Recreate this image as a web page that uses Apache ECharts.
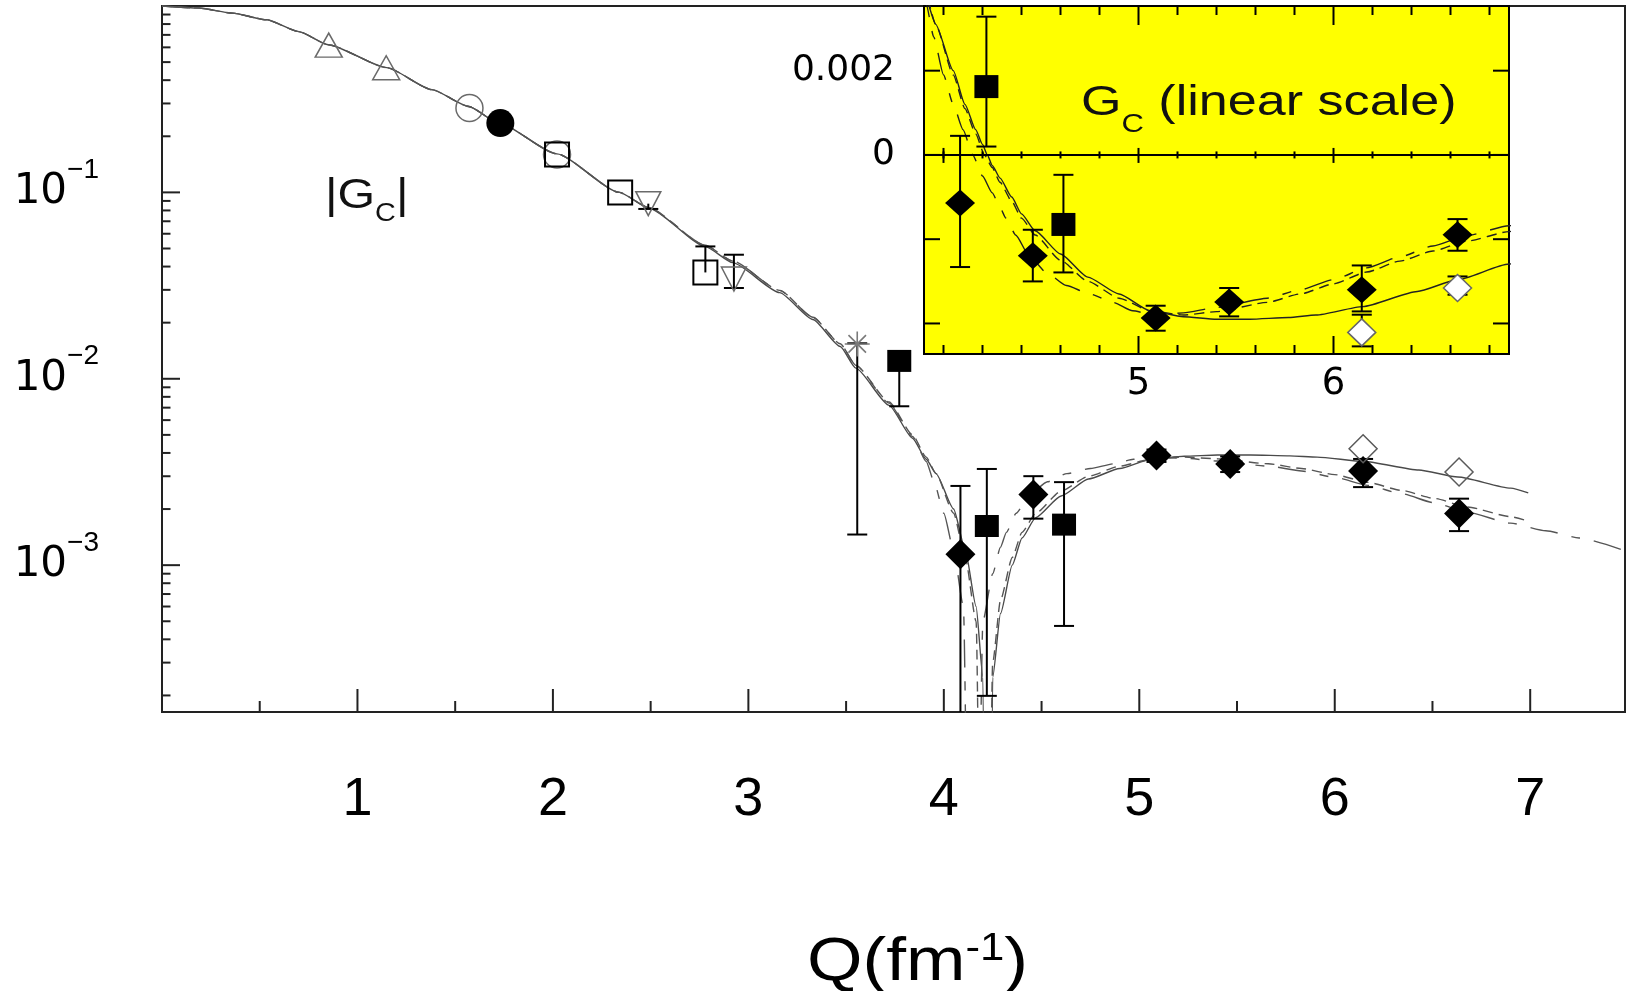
<!DOCTYPE html>
<html>
<head>
<meta charset="utf-8">
<script src="https://cdn.jsdelivr.net/npm/echarts@6/dist/echarts.min.js"></script>
<style>
  html, body { margin: 0; padding: 0; background: #fff; }
  #chart { width: 1626px; height: 991px; }
</style>
</head>
<body>
<div id="chart"></div>
<script>
// ---------- axis ranges ----------
const Q_MIN = 0, Q_MAX = 7.485;          // main plot, fm^-1
const G_MIN = 1.63e-4, G_MAX = 1;        // main plot, |G_C| (log)
const IQ_MIN = 3.9, IQ_MAX = 6.9;        // inset, fm^-1
const IG_MIN = -0.004725, IG_MAX = 0.003535; // inset, G_C (linear)

// ---------- tick values ----------
const mainQLabels = [1, 2, 3, 4, 5, 6, 7];
const mainQMajor = [1, 2, 3, 4, 5, 6, 7];
const mainQMinor = [0.5, 1.5, 2.5, 3.5, 4.5, 5.5, 6.5];
const mainGLabels = [1e-3, 1e-2, 1e-1];
const mainGMajor = [1e-3, 1e-2, 1e-1];
const mainGMinor = [2e-4, 3e-4, 4e-4, 5e-4, 6e-4, 7e-4, 8e-4, 9e-4,
                    2e-3, 3e-3, 4e-3, 5e-3, 6e-3, 7e-3, 8e-3, 9e-3,
                    2e-2, 3e-2, 4e-2, 5e-2, 6e-2, 7e-2, 8e-2, 9e-2,
                    0.2, 0.3, 0.4, 0.5, 0.6, 0.7, 0.8, 0.9];
const insetQLabels = [5, 6];
const insetQMajor = [5, 6];
const insetQMinor = [4.0, 4.2, 4.4, 4.6, 4.8, 5.2, 5.4, 5.6, 5.8, 6.2, 6.4, 6.6, 6.8];
const insetZeroMajor = [4, 5, 6];
const insetGLabels = [0, 0.002];
const insetGTicks = [-0.004, -0.002, 0, 0.002];

// ---------- theory curves: signed G_C(Q), [Q, G] ----------
const solidCurve = [
  [0, 1.0], [0.19, 0.975], [0.36, 0.916], [0.535, 0.843], [0.70, 0.729], [0.85, 0.62],
  [1.15, 0.467], [1.38, 0.356], [1.57, 0.289], [1.71, 0.240], [2.02, 0.161], [2.34, 0.100],
  [2.49, 0.0825], [2.78, 0.0512], [2.92, 0.042], [3.16, 0.029], [3.33, 0.0208], [3.47, 0.0149],
  [3.55, 0.0114], [3.72, 0.0072], [3.84, 0.0048], [3.91, 0.0037], [3.96, 0.0031], [4.05, 0.0020],
  [4.11, 0.0012], [4.165, 0.0006], [4.20, 0.00025], [4.225, 0], [4.25, -0.00025], [4.29, -0.00055],
  [4.35, -0.0010], [4.40, -0.0014], [4.47, -0.0018], [4.60, -0.00235], [4.74, -0.0029], [4.90, -0.0033],
  [5.06, -0.0037], [5.23, -0.00384], [5.40, -0.0039], [5.57, -0.0039], [5.77, -0.00386], [5.91, -0.0038],
  [6.15, -0.0036], [6.43, -0.00324], [6.63, -0.00297], [6.90, -0.00259], [6.99, -0.00244]
];
const dashedCurve = [
  [0, 1.0], [0.19, 0.975], [0.36, 0.916], [0.535, 0.843], [0.70, 0.729], [0.85, 0.62],
  [1.15, 0.467], [1.38, 0.356], [1.57, 0.289], [1.71, 0.240], [2.02, 0.161], [2.34, 0.100],
  [2.49, 0.0828], [2.78, 0.052], [2.92, 0.0428], [3.16, 0.0298], [3.33, 0.0214], [3.47, 0.0154],
  [3.55, 0.0118], [3.72, 0.0075], [3.84, 0.0050], [3.91, 0.0038], [3.96, 0.0031], [4.05, 0.0019],
  [4.11, 0.0011], [4.165, 0.0005], [4.21, 0], [4.25, -0.0003], [4.29, -0.00065], [4.35, -0.0011],
  [4.40, -0.0015], [4.47, -0.0019], [4.60, -0.0025], [4.74, -0.0030], [4.90, -0.0034], [5.06, -0.0037],
  [5.23, -0.0038], [5.40, -0.00372], [5.66, -0.0035], [5.83, -0.0033], [6.00, -0.00306], [6.17, -0.00278],
  [6.34, -0.00252], [6.51, -0.00228], [6.68, -0.00205], [6.90, -0.00182], [6.99, -0.00172]
];
const dashDotCurve = [
  [0, 1.0], [0.19, 0.975], [0.36, 0.916], [0.535, 0.843], [0.70, 0.729], [0.85, 0.62],
  [1.15, 0.467], [1.38, 0.356], [1.57, 0.289], [1.71, 0.240], [2.02, 0.161], [2.34, 0.100],
  [2.49, 0.0828], [2.78, 0.052], [2.92, 0.0428], [3.16, 0.0298], [3.33, 0.0214], [3.47, 0.0154],
  [3.55, 0.0118], [3.72, 0.0074], [3.84, 0.0049], [3.91, 0.0036], [3.95, 0.0028], [4.00, 0.0019],
  [4.05, 0.0012], [4.10, 0.0006], [4.15, 0], [4.20, -0.0005], [4.25, -0.0009], [4.29, -0.00125],
  [4.32, -0.0015], [4.37, -0.0019], [4.44, -0.0024], [4.53, -0.0028], [4.63, -0.0031], [4.75, -0.0033],
  [4.87, -0.0035], [4.97, -0.0037], [5.08, -0.0038], [5.23, -0.00375], [5.40, -0.00362], [5.66, -0.0034],
  [5.83, -0.0032], [6.00, -0.00296], [6.17, -0.00268], [6.34, -0.00242], [6.51, -0.00216], [6.68, -0.00192],
  [6.90, -0.00168], [7.08, -0.00153], [7.25, -0.0014], [7.49, -0.00119]
];

// ---------- measurements ----------
// low-Q data, [Q, |G_C|]
const openTriangles = [[0.853, 0.617], [1.147, 0.466]];
const openCircles = [[1.573, 0.2835], [2.021, 0.1598]];
const filledCircles = [[1.731, 0.2355]];
const openSquares = [[2.021, 0.1598], [2.344, 0.0999], [2.78, 0.0372]];
const downTriangles = [[2.488, 0.087], [2.926, 0.0343]];
const asterisks = [[3.557, 0.01538]];
const squaresLowQ = [[3.772, 0.01247]];
// low-Q error bars, [Q, G, low, high]; null = no bar on that side
const lowQErrors = [
  [2.488, 0.087, 0.0815, null], [2.78, 0.0372, null, 0.0513], [2.926, 0.0343, 0.0307, 0.0463],
  [3.557, 0.01538, 0.00146, 0.0155], [3.772, 0.01247, 0.00712, null]
];
// high-Q data with signed G_C, [Q, G, low, high]
const squaresHighQ = [[4.22, 0.001622, 0.000199, 0.003282], [4.615, -0.00165, -0.002789, -0.000472]];
const filledDiamonds = [
  [4.085, -0.001143, -0.002661, 0.000453], [4.458, -0.002393, -0.003002, -0.001776],
  [5.088, -0.00387, -0.004172, -0.003579], [5.465, -0.003491, -0.003832, -0.003159],
  [6.145, -0.003199, -0.003714, -0.002623], [6.636, -0.001895, -0.002274, -0.001523]
];
const openDiamonds = [[6.145, -0.004212, -0.004544, -0.003792], [6.636, -0.003159, -0.003318, -0.002884]];

// ---------- helpers ----------
const FONT = "'Liberation Sans', Arial, sans-serif";
const FONT_WIDE = "'DejaVu Sans', 'Liberation Sans', sans-serif";
const absCurve = c => c.map(([q, g]) => [q, Math.max(Math.abs(g), 1e-7)]);
// signed rows -> magnitude rows for the log plot
const absRows = rows => rows.map(([q, g, lo, hi]) => {
  if (lo * hi < 0) return [q, Math.abs(g), 0, Math.max(Math.abs(lo), Math.abs(hi))];
  const a = Math.abs(lo), b = Math.abs(hi);
  return [q, Math.abs(g), Math.min(a, b), Math.max(a, b)];
});
const pts = rows => rows.map(r => [r[0], r[1]]);

function tickSeries(idx, points, seg, color, width) {
  return {
    type: 'custom', xAxisIndex: idx, yAxisIndex: idx, silent: true, z: 8,
    data: points,
    renderItem: (params, api) => {
      const p = api.coord([api.value(0), api.value(1)]);
      return { type: 'line',
        shape: { x1: p[0] + seg[0], y1: p[1] + seg[1], x2: p[0] + seg[2], y2: p[1] + seg[3] },
        style: { stroke: color, lineWidth: width } };
    }
  };
}

function errorSeries(idx, rows, isLog) {
  return {
    type: 'custom', xAxisIndex: idx, yAxisIndex: idx, silent: true, z: 4,
    data: rows.map(r => [r[0], r[1]]),
    renderItem: (params, api) => {
      const r = rows[params.dataIndex];
      const cs = params.coordSys, top = cs.y, bottom = cs.y + cs.height;
      const pv = api.coord([r[0], r[1]]);
      const x = pv[0];
      const yOf = g => (isLog && g <= 0) ? bottom + 100 : api.coord([r[0], g])[1];
      const yl = r[2] == null ? pv[1] : yOf(r[2]);
      const yh = r[3] == null ? pv[1] : yOf(r[3]);
      const clamp = y => Math.min(bottom, Math.max(top, y));
      const st = { stroke: '#000', lineWidth: 2 };
      const children = [{ type: 'line', shape: { x1: x, y1: clamp(yl), x2: x, y2: clamp(yh) }, style: st }];
      [[r[2], yl], [r[3], yh]].forEach(([g, y]) => {
        if (g != null && y >= top && y <= bottom) {
          children.push({ type: 'line', shape: { x1: x - 10, y1: y, x2: x + 10, y2: y }, style: st });
        }
      });
      return { type: 'group', children };
    }
  };
}

function lineSeries(idx, data, type, color, z) {
  return {
    type: 'line', xAxisIndex: idx, yAxisIndex: idx, data, showSymbol: false, symbol: 'none',
    smooth: 0.2, smoothMonotone: 'x', clip: true, silent: true, z: z || 2,
    lineStyle: { color, width: 1.4, type }
  };
}

function scatter(idx, data, symbol, size, fill, border, bw, extra) {
  return Object.assign({
    type: 'scatter', xAxisIndex: idx, yAxisIndex: idx, data, symbol, symbolSize: size,
    silent: true, z: 5, clip: true,
    itemStyle: { color: fill, borderColor: border, borderWidth: bw, opacity: 1 }
  }, extra || {});
}

const asteriskPath = 'path://M0,5L10,5M5,0L5,10M1.5,1.5L8.5,8.5M8.5,1.5L1.5,8.5';
const DASH = [10, 6];
const DASHDOT = [28, 14, 9, 14];

const mainRowsSq = absRows(squaresHighQ);
const mainRowsDi = absRows(filledDiamonds);
const mainRowsOd = absRows(openDiamonds);

const option = {
  animation: false,
  backgroundColor: '#ffffff',
  grid: [
    { left: 162, top: 6, width: 1463, height: 706, show: true, borderColor: '#222', borderWidth: 2,
      backgroundColor: 'transparent', containLabel: false, outerBoundsMode: 'none' },
    { left: 924, top: 6, width: 585, height: 348, show: true, borderColor: '#000', borderWidth: 2,
      backgroundColor: '#ffff00', containLabel: false, outerBoundsMode: 'none', z: 1 }
  ],
  xAxis: [
    { type: 'value', gridIndex: 0, min: Q_MIN, max: Q_MAX, position: 'bottom',
      axisLine: { show: false }, axisTick: { show: false }, splitLine: { show: false },
      axisLabel: { customValues: mainQLabels, formatter: v => String(v), fontFamily: FONT,
        fontSize: 54, lineHeight: 54, color: '#000', margin: 61 } },
    { type: 'value', gridIndex: 1, min: IQ_MIN, max: IQ_MAX, position: 'bottom',
      axisLine: { show: false, onZero: false }, axisTick: { show: false }, splitLine: { show: false },
      axisLabel: { customValues: insetQLabels, formatter: v => String(v), fontFamily: FONT_WIDE,
        fontSize: 37, lineHeight: 37, color: '#000', margin: 12 } }
  ],
  yAxis: [
    { type: 'log', logBase: 10, gridIndex: 0, min: G_MIN, max: G_MAX,
      axisLine: { show: false }, axisTick: { show: false }, splitLine: { show: false },
      axisLabel: { customValues: mainGLabels, margin: 63,
        formatter: v => '{b|10}{s|\u2212' + Math.round(-Math.log10(v)) + '}',
        rich: {
          b: { fontFamily: FONT_WIDE, fontSize: 42, lineHeight: 72, color: '#000' },
          s: { fontFamily: FONT, fontSize: 28, lineHeight: 28, verticalAlign: 'top', color: '#000' }
        } } },
    { type: 'value', gridIndex: 1, min: IG_MIN, max: IG_MAX,
      axisLine: { show: false, onZero: false }, axisTick: { show: false }, splitLine: { show: false },
      axisLabel: { customValues: insetGLabels, formatter: v => (v === 0 ? '0' : '0.002'),
        fontFamily: FONT_WIDE, fontSize: 36, color: '#000', margin: 29 } }
  ],
  graphic: [
    { type: 'text', x: 325, y: 196, scaleX: 1.15, silent: true, z: 20,
      style: { text: '{b|\u007CG}{s|C}{b|\u007C}', align: 'left', verticalAlign: 'middle',
        rich: {
          b: { fontFamily: FONT, fontSize: 42, lineHeight: 61, fill: '#111', color: '#111' },
          s: { fontFamily: FONT, fontSize: 25, lineHeight: 25, verticalAlign: 'bottom', fill: '#111', color: '#111' }
        } } },
    { type: 'text', x: 1081, y: 103, scaleX: 1.24, silent: true, z: 20,
      style: { text: '{b|G}{s|C}{b| (linear scale)}', align: 'left', verticalAlign: 'middle',
        rich: {
          b: { fontFamily: FONT, fontSize: 42, lineHeight: 69, fill: '#111', color: '#111' },
          s: { fontFamily: FONT, fontSize: 25, lineHeight: 25, verticalAlign: 'bottom', fill: '#111', color: '#111' }
        } } },
    { type: 'text', x: 807, y: 963, scaleX: 1.15, silent: true, z: 20,
      style: { text: '{b|Q(fm}{s|-1}{b|)}', align: 'left', verticalAlign: 'middle',
        rich: {
          b: { fontFamily: FONT, fontSize: 62, lineHeight: 65, fill: '#000', color: '#000' },
          s: { fontFamily: FONT, fontSize: 38, lineHeight: 38, verticalAlign: 'top', fill: '#000', color: '#000' }
        } } }
  ],
  series: [
    // ----- main plot: theory curves -----
    lineSeries(0, absCurve(solidCurve), 'solid', '#4a4a4a'),
    lineSeries(0, absCurve(dashedCurve), DASH, '#555'),
    lineSeries(0, absCurve(dashDotCurve), DASHDOT, '#555'),
    // ----- main plot: error bars -----
    errorSeries(0, lowQErrors, true),
    errorSeries(0, mainRowsSq, true),
    errorSeries(0, mainRowsDi, true),
    // ----- main plot: markers -----
    scatter(0, openTriangles, 'triangle', [27, 24], 'transparent', '#6a6a6a', 1.5),
    scatter(0, openCircles, 'circle', 27, 'transparent', '#6a6a6a', 1.5),
    scatter(0, filledCircles, 'circle', 28, '#000', '#000', 0),
    scatter(0, openSquares, 'rect', 24, 'transparent', '#000', 2),
    scatter(0, downTriangles, 'triangle', [25, 24], 'transparent', '#6a6a6a', 1.5, { symbolRotate: 180 }),
    scatter(0, asterisks, asteriskPath, 25, 'transparent', '#7a7a7a', 1.6),
    scatter(0, squaresLowQ, 'rect', [24, 22], '#000', '#000', 0),
    scatter(0, pts(mainRowsSq), 'rect', [24, 22], '#000', '#000', 0),
    scatter(0, pts(mainRowsDi), 'diamond', [30, 30], '#000', '#000', 0),
    scatter(0, pts(mainRowsOd), 'diamond', [28, 28], 'transparent', '#5a5a5a', 1.5),
    // ----- main plot: ticks -----
    tickSeries(0, mainQMajor.map(q => [q, G_MIN]), [0, 0, 0, -23], '#222', 2),
    tickSeries(0, mainQMinor.map(q => [q, G_MIN]), [0, 0, 0, -11], '#222', 2),
    tickSeries(0, mainGMajor.map(g => [Q_MIN, g]), [0, 0, 18, 0], '#222', 2),
    tickSeries(0, mainGMinor.map(g => [Q_MIN, g]), [0, 0, 8.5, 0], '#222', 2),

    // ----- inset: theory curves -----
    lineSeries(1, solidCurve, 'solid', '#222', 3),
    lineSeries(1, dashedCurve, DASH, '#222', 3),
    lineSeries(1, dashDotCurve, DASHDOT, '#222', 3),
    // ----- inset: zero line -----
    {
      type: 'custom', xAxisIndex: 1, yAxisIndex: 1, silent: true, z: 6, data: [[IQ_MIN, 0]],
      renderItem: (params, api) => {
        const a = api.coord([IQ_MIN, 0]), b = api.coord([IQ_MAX, 0]);
        return { type: 'line', shape: { x1: a[0], y1: a[1], x2: b[0], y2: b[1] }, style: { stroke: '#000', lineWidth: 2 } };
      }
    },
    // ----- inset: error bars and markers -----
    errorSeries(1, squaresHighQ, false),
    errorSeries(1, filledDiamonds, false),
    errorSeries(1, openDiamonds, false),
    scatter(1, pts(squaresHighQ), 'rect', [24, 23], '#000', '#000', 0),
    scatter(1, pts(filledDiamonds), 'diamond', [30, 27], '#000', '#000', 0),
    scatter(1, pts(openDiamonds), 'diamond', [28, 27], '#ffffff', '#666', 1.5),
    // ----- inset: ticks -----
    tickSeries(1, insetQMinor.map(q => [q, IG_MIN]), [0, 0, 0, -9], '#000', 2),
    tickSeries(1, insetQMajor.map(q => [q, IG_MIN]), [0, 0, 0, -18], '#000', 2),
    tickSeries(1, insetQMinor.map(q => [q, IG_MAX]), [0, 0, 0, 9], '#000', 2),
    tickSeries(1, insetQMajor.map(q => [q, IG_MAX]), [0, 0, 0, 19], '#000', 2),
    tickSeries(1, insetQMinor.map(q => [q, 0]), [0, -3.5, 0, 3.5], '#000', 2),
    tickSeries(1, insetZeroMajor.map(q => [q, 0]), [0, -7, 0, 8], '#000', 2),
    tickSeries(1, insetGTicks.map(g => [IQ_MIN, g]), [0, 0, 16, 0], '#000', 2),
    tickSeries(1, insetGTicks.map(g => [IQ_MAX, g]), [0, 0, -16, 0], '#000', 2)
  ]
};

const chart = echarts.init(document.getElementById('chart'), null, { renderer: 'canvas' });
chart.setOption(option);
</script>
</body>
</html>
